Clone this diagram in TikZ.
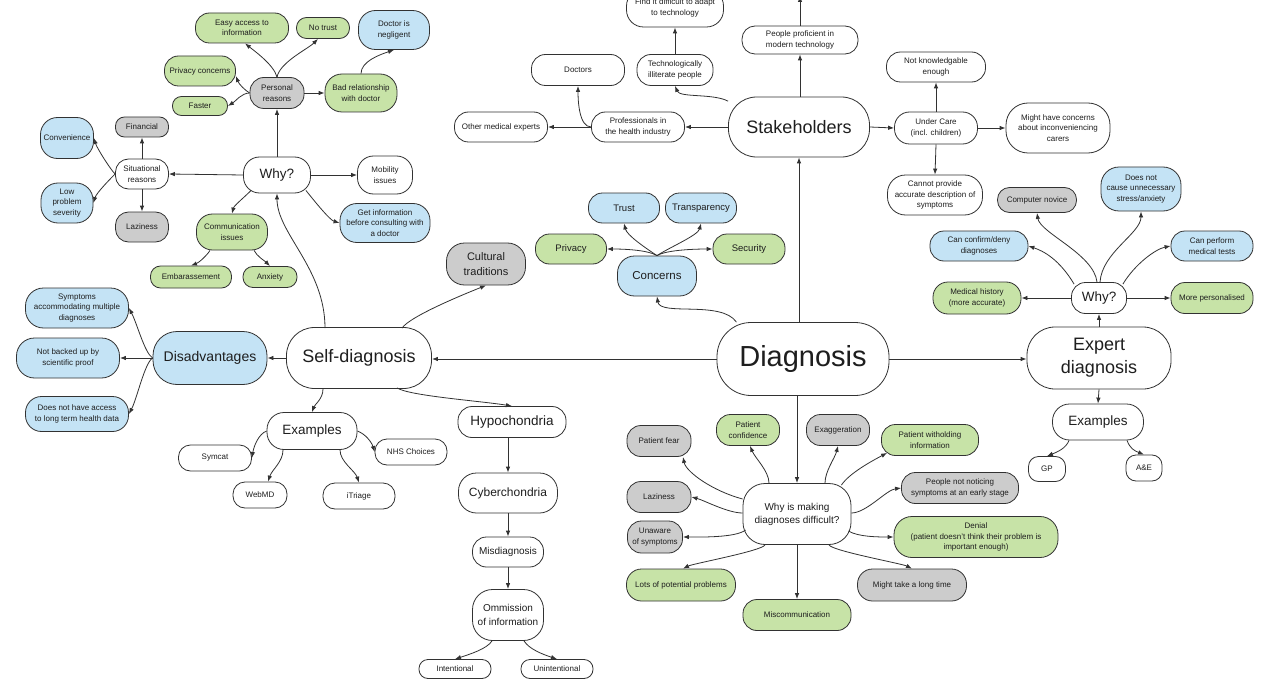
\documentclass[tikz,border=0pt]{standalone}
\usepackage{fontspec}
\setmainfont{Liberation Sans}
\usetikzlibrary{arrows.meta,calc}
\definecolor{cgreen}{RGB}{199,227,167}
\definecolor{cblue}{RGB}{196,227,245}
\definecolor{cgrey}{RGB}{204,204,204}
\definecolor{lc}{RGB}{50,50,50}
\definecolor{tc}{RGB}{30,30,30}
\tikzset{
 nd/.style={draw=lc, line width=0.8pt, align=center, inner sep=1pt, text=tc, font=\fontsize{8}{10.5}\selectfont},
 sz/.style n args={3}{minimum width=#1pt, minimum height=#2pt, rounded corners=#3pt},
 gn/.style={nd, fill=cgreen}, bu/.style={nd, fill=cblue}, gy/.style={nd, fill=cgrey}, wt/.style={nd, fill=white},
 ar/.style={draw=lc, line width=0.8pt, -{Latex[length=6pt,width=4.5pt]}},
}
\begin{document}
\begin{tikzpicture}[x=1pt,y=-1pt]
\fill[white] (0,0) rectangle (1280,690);
\useasboundingbox (0,0) rectangle (1280,690);
% top centre
\node[wt, sz={97}{38}{17}] (findit) at (675,8) {Find it difficult to adapt\\to technology};
\node[wt, sz={116}{28}{13}] (prof2) at (800,40) {People proficient in\\modern technology};
\coordinate (offtop) at (800,-4);
\node[wt, sz={76}{31}{14}] (techill) at (675,70) {Technologically\\illiterate people};
\node[wt, sz={93}{31}{14}] (doctors) at (578,70) {Doctors};
\node[wt, sz={93}{30}{14}] (prof) at (638,127) {Professionals in\\the health industry};
\node[wt, sz={93}{30}{14}] (other) at (501,127) {Other medical experts};
\node[wt, sz={141}{60}{28}, font=\fontsize{18}{22}\selectfont] (stake) at (799,127) {Stakeholders};
% top right
\node[wt, sz={99}{30}{14}] (notknow) at (936,67) {Not knowledgable\\enough};
\node[wt, sz={83}{32}{15}] (under) at (936,128) {Under Care\\(incl. children)};
\node[wt, sz={104}{50}{22}] (might) at (1058,128) {Might have concerns\\about inconveniencing\\carers};
\node[wt, sz={95}{40}{18}] (cannot) at (935,195) {Cannot provide\\accurate description of\\symptoms};
\node[gy, sz={79}{25}{12}] (novice) at (1037,200) {Computer novice};
\node[bu, sz={80}{44}{18}] (doesnot) at (1141,189) {Does not\\cause unnecessary\\stress/anxiety};
\node[bu, sz={98}{30}{14}] (confirm) at (979,246) {Can confirm/deny\\diagnoses};
\node[bu, sz={82}{30}{14}] (perform) at (1212,246) {Can perform\\medical tests};
\node[gn, sz={88}{32}{15}] (medhist) at (977,298) {Medical history\\(more accurate)};
\node[wt, sz={55}{31}{14}, font=\fontsize{13.5}{16}\selectfont] (why2) at (1099,298) {Why?};
\node[gn, sz={82}{31}{14}] (perso) at (1212,298) {More personalised};
\node[wt, sz={144}{62}{28}, font=\fontsize{18}{23}\selectfont] (expert) at (1099,358) {Expert\\diagnosis};
\node[wt, sz={91}{36}{17}, font=\fontsize{13.5}{16}\selectfont] (ex2) at (1098,422) {Examples};
\node[wt, sz={37}{25}{10}] (gp) at (1047,469) {GP};
\node[wt, sz={36}{26}{10}] (ae) at (1144,468) {A\&E};
% concerns
\node[bu, sz={71}{30}{14}, font=\fontsize{9.5}{11}\selectfont] (trust) at (624,208) {Trust};
\node[bu, sz={71}{30}{14}, font=\fontsize{9.5}{11}\selectfont] (transp) at (701,208) {Transparency};
\node[gn, sz={71}{30}{14}, font=\fontsize{9.5}{11}\selectfont] (privacy) at (571,249) {Privacy};
\node[gn, sz={72}{30}{14}, font=\fontsize{9.5}{11}\selectfont] (security) at (749,249) {Security};
\node[bu, sz={79}{40}{17}, font=\fontsize{11.5}{14}\selectfont] (concerns) at (657,276) {Concerns};
\node[wt, sz={172}{73}{34}, font=\fontsize{29}{34}\selectfont] (D) at (803,359) {Diagnosis};
% left top
\node[gn, sz={93}{30}{14}] (easy) at (242,28) {Easy access to\\information};
\node[gn, sz={53}{21}{10}] (notrust) at (323,28) {No trust};
\node[bu, sz={71}{39}{17}] (negl) at (394,30) {Doctor is\\negligent};
\node[gn, sz={71}{30}{14}] (privc) at (200,71) {Privacy concerns};
\node[gy, sz={54}{31}{14}] (personal) at (277,93) {Personal\\reasons};
\node[gn, sz={55}{19}{9}] (faster) at (200,106) {Faster};
\node[gn, sz={72}{38}{17}] (bad) at (361,93) {Bad relationship\\with doctor};
\node[gy, sz={53}{20}{9}] (fin) at (142,127) {Financial};
\node[bu, sz={53}{41}{17}] (conv) at (67,138) {Convenience};
\node[wt, sz={53}{30}{13}] (sit) at (142,174) {Situational\\reasons};
\node[wt, sz={67}{36}{16}, font=\fontsize{13.5}{16}\selectfont] (why1) at (277,175) {Why?};
\node[wt, sz={55}{38}{16}] (mob) at (385,175) {Mobility\\issues};
\node[bu, sz={52}{40}{17}] (low) at (67,203) {Low\\problem\\severity};
\node[gy, sz={53}{30}{13}] (lazy1) at (142,227) {Laziness};
\node[bu, sz={90}{39}{17}] (getinfo) at (385,223) {Get information\\before consulting with\\a doctor};
\node[gn, sz={71}{36}{16}] (comm) at (232,232) {Communication\\issues};
\node[gn, sz={81}{22}{10}] (emb) at (191,277) {Embarassement};
\node[gn, sz={54}{21}{10}] (anx) at (270,277) {Anxiety};
% left middle
\node[bu, sz={103}{40}{18}] (symp) at (77,308) {Symptoms\\accommodating multiple\\diagnoses};
\node[bu, sz={103}{40}{18}] (notb) at (68,358) {Not backed up by\\scientific proof};
\node[bu, sz={103}{35}{16}] (noacc) at (77,414) {Does not have access\\to long term health data};
\node[bu, sz={114}{53}{24}, font=\fontsize{14}{17}\selectfont] (disadv) at (210,358) {Disadvantages};
\node[wt, sz={145}{61}{28}, font=\fontsize{18}{22}\selectfont] (self) at (359,358) {Self-diagnosis};
\node[gy, sz={79}{42}{18}, font=\fontsize{11}{15}\selectfont] (cult) at (486,264) {Cultural\\traditions};
% bottom left
\node[wt, sz={90}{37}{17}, font=\fontsize{13.5}{16}\selectfont] (ex1) at (312,431) {Examples};
\node[wt, sz={72}{26}{12}] (nhs) at (411,452) {NHS Choices};
\node[wt, sz={73}{26}{12}] (symcat) at (215,458) {Symcat};
\node[wt, sz={54}{26}{12}] (webmd) at (260,495) {WebMD};
\node[wt, sz={72}{26}{12}] (itri) at (359,496) {iTriage};
\node[wt, sz={108}{31}{14}, font=\fontsize{13.5}{16}\selectfont] (hypo) at (512,422) {Hypochondria};
\node[wt, sz={99}{40}{18}, font=\fontsize{12}{14}\selectfont] (cyber) at (508,493) {Cyberchondria};
\node[wt, sz={71}{30}{14}, font=\fontsize{10}{12}\selectfont] (misd) at (508,552) {Misdiagnosis};
\node[wt, sz={71}{51}{20}, font=\fontsize{10}{13.5}\selectfont] (omm) at (508,615) {Ommission\\of information};
\node[wt, sz={72}{19}{9}] (intent) at (455,669) {Intentional};
\node[wt, sz={72}{19}{9}] (unint) at (557,669) {Unintentional};
% bottom middle
\node[gy, sz={64}{31}{14}] (fear) at (659,441) {Patient fear};
\node[gn, sz={63}{31}{14}] (conf) at (748,430) {Patient\\confidence};
\node[gy, sz={63}{31}{14}] (exag) at (838,430) {Exaggeration};
\node[gn, sz={97}{31}{14}] (withh) at (930,440) {Patient witholding\\information};
\node[gy, sz={64}{31}{14}] (lazy2) at (659,497) {Laziness};
\node[gy, sz={117}{31}{14}] (notice) at (960,488) {People not noticing\\symptoms at an early stage};
\node[gy, sz={55}{32}{14}] (unaw) at (655,537) {Unaware\\of symptoms};
\node[wt, sz={108}{61}{22}, font=\fontsize{10}{13}\selectfont] (why3) at (797,514) {Why is making\\diagnoses difficult?};
\node[gn, sz={164}{41}{18}] (denial) at (976,537) {Denial\\(patient doesn't think their problem is\\important enough)};
\node[gn, sz={109}{32}{15}] (lots) at (681,585) {Lots of potential problems};
\node[gy, sz={109}{32}{15}] (mtl) at (912,585) {Might take a long time};
\node[gn, sz={108}{31}{14}] (misc) at (797,615) {Miscommunication};
% ---------- connectors
\draw[ar] (D.north -| stake.south) -- (stake.south);
\draw[ar] (D.west) -- (D.west -| self.east);
\draw[ar] (D.east) -- (D.east -| expert.west);
\draw[ar] (D.south -| why3.north) -- (why3.north);
\draw[ar] (D.151) .. controls +(-15,-22) and +(3,20) .. (concerns.south);
\draw[ar] (concerns.north) .. controls +(-12,-8) and +(3,12) .. (trust.south);
\draw[ar] (concerns.north) .. controls +(12,-8) and +(-3,12) .. (transp.south);
\draw[ar] (concerns.north) .. controls +(-10,-6) and +(15,0) .. (privacy.east);
\draw[ar] (concerns.north) .. controls +(10,-6) and +(-15,0) .. (security.west);
\draw[ar] (stake.west) -- (prof.east);
\draw[ar] (stake.160) .. controls +(-15,-8) and +(5,12) .. (techill.south);
\draw[ar] (stake.north -| prof2.south) -- (prof2.south);
\draw[ar] (prof2.north) -- (offtop);
\draw[ar] (techill.north) -- (findit.south);
\draw[ar] (stake.east) -- (under.west);
\draw[ar] (prof.west) -- (other.east);
\draw[ar] (prof.west) .. controls +(-12,0) and +(0,15) .. (doctors.south);
\draw[ar] (under.north) -- (notknow.south);
\draw[ar] (under.south) -- (cannot.north);
\draw[ar] (under.east) -- (might.west);
\draw[ar] (expert.north) -- (why2.south);
\draw[ar] (expert.south) -- (ex2.north);
\draw[ar] ($(ex2.south)+(-29,0)$) .. controls +(-3,8) and +(10,-4) .. (gp.north);
\draw[ar] ($(ex2.south)+(29,0)$) .. controls +(3,8) and +(-10,-4) .. (ae.north);
\draw[ar] (why2.west) -- (medhist.east);
\draw[ar] (why2.east) -- (perso.west);
\draw[ar] ($(why2.north west)+(3,2)$) .. controls +(-15,-25) and +(15,5) .. (confirm.east);
\draw[ar] ($(why2.north)+(-2,0)$) .. controls +(-3,-28) and +(3,20) .. (novice.south);
\draw[ar] ($(why2.north)+(1,0)$) .. controls +(2,-30) and +(0,22) .. (doesnot.south);
\draw[ar] ($(why2.north east)+(-4,2)$) .. controls +(12,-20) and +(-15,3) .. (perform.west);
\draw[ar] ($(self.north)+(-34,1)$) .. controls +(0,-60) and +(0,40) .. (why1.south);
\draw[ar] (self.west) -- (disadv.east);
\draw[ar] ($(self.north)+(43,1)$) .. controls +(8,-12) and +(-20,8) .. (cult.south);
\draw[ar] ($(self.south)+(-36,0)$) .. controls +(0,10) and +(3,-8) .. (ex1.north);
\draw[ar] ($(self.south)+(38,-1)$) .. controls +(12,8) and +(-30,-5) .. (hypo.north);
\draw[ar] (disadv.west) .. controls +(-8,-5) and +(8,15) .. (symp.east);
\draw[ar] (disadv.west) -- (notb.east);
\draw[ar] (disadv.west) .. controls +(-8,5) and +(8,-15) .. (noacc.east);
\draw[ar] (ex1.west) .. controls +(-8,3) and +(2,-12) .. (symcat.east);
\draw[ar] ($(ex1.south)+(-29,0)$) .. controls +(0,12) and +(4,-12) .. ($(webmd.north)+(8,0)$);
\draw[ar] ($(ex1.south)+(28,0)$) .. controls +(0,12) and +(-4,-12) .. (itri.north);
\draw[ar] (ex1.east) .. controls +(8,3) and +(-3,-10) .. (nhs.west);
\draw[ar] (hypo.south -| cyber.north) -- (cyber.north);
\draw[ar] (cyber.south) -- (misd.north);
\draw[ar] (misd.south) -- (omm.north);
\draw[ar] ($(omm.south)+(-16,0)$) .. controls +(-5,8) and +(15,-5) .. (intent.north);
\draw[ar] ($(omm.south)+(16,0)$) .. controls +(5,8) and +(-15,-5) .. (unint.north);
\draw[ar] (why1.north) -- (personal.south);
\draw[ar] (why1.west) -- (sit.east);
\draw[ar] (why1.east) -- (mob.west);
\draw[ar] ($(why1.south west)+(8,-3)$) .. controls +(-8,8) and +(2,-8) .. (comm.north);
\draw[ar] ($(why1.south east)+(-5,-3)$) .. controls +(8,10) and +(-10,-3) .. (getinfo.west);
\draw[ar] (personal.north) .. controls +(-3,-12) and +(10,8) .. ($(easy.south)+(3,0)$);
\draw[ar] (personal.north) .. controls +(3,-15) and +(-10,10) .. ($(notrust.south)+(-5,0)$);
\draw[ar] (personal.west) .. controls +(-5,-3) and +(3,8) .. ($(privc.east)+(0,5)$);
\draw[ar] (personal.west) .. controls +(-8,0) and +(8,-5) .. (faster.east);
\draw[ar] (personal.east) -- (bad.west);
\draw[ar] (bad.north) .. controls +(0,-12) and +(-15,5) .. (negl.south);
\draw[ar] (sit.north) -- (fin.south);
\draw[ar] (sit.south) -- (lazy1.north);
\draw[ar] (sit.west) .. controls +(-5,-5) and +(3,10) .. (conv.east);
\draw[ar] (sit.west) .. controls +(-5,5) and +(3,-10) .. (low.east);
\draw[ar] ($(comm.south)+(-22,0)$) .. controls +(-3,5) and +(8,-3) .. (emb.north);
\draw[ar] ($(comm.south)+(22,0)$) .. controls +(3,6) and +(-5,-5) .. (anx.north);
\draw[ar] ($(why3.west)+(0,-15)$) .. controls +(-30,-8) and +(3,15) .. ($(fear.south)+(24,0)$);
\draw[ar] ($(why3.north)+(-28,0)$) .. controls +(0,-12) and +(5,12) .. ($(conf.south)+(2,0)$);
\draw[ar] ($(why3.north)+(28,0)$) .. controls +(0,-12) and +(-3,12) .. (exag.south);
\draw[ar] ($(why3.north east)+(-10,2)$) .. controls +(8,-12) and +(-15,8) .. ($(withh.south west)+(6,-3)$);
\draw[ar] ($(why3.west)+(0,-1)$) .. controls +(-15,0) and +(12,3) .. (lazy2.east);
\draw[ar] ($(why3.east)+(0,-1)$) .. controls +(15,0) and +(-15,2) .. (notice.west);
\draw[ar] ($(why3.west)+(3,16)$) .. controls +(-10,8) and +(15,0) .. (unaw.east);
\draw[ar] ($(why3.east)+(-3,17)$) .. controls +(10,6) and +(-15,0) .. (denial.west);
\draw[ar] ($(why3.south)+(-32,0)$) .. controls +(-3,6) and +(10,-5) .. ($(lots.north)+(2,0)$);
\draw[ar] (why3.south) -- (misc.north);
\draw[ar] ($(why3.south)+(32,0)$) .. controls +(3,6) and +(-10,-5) .. (mtl.north);
\end{tikzpicture}
\end{document}
